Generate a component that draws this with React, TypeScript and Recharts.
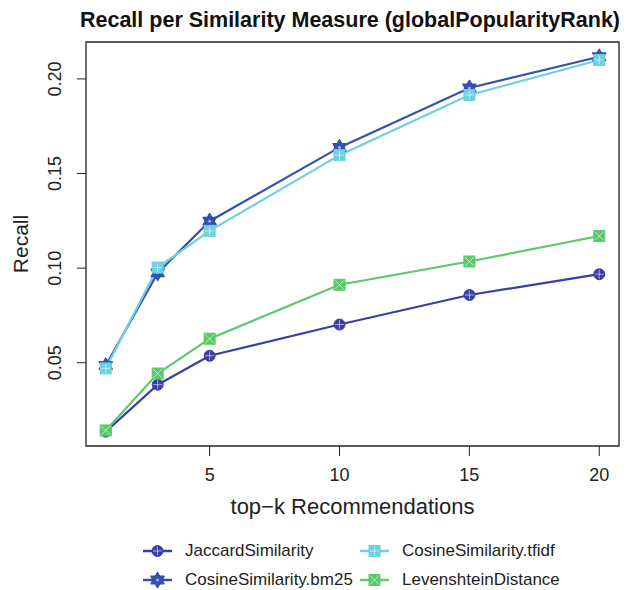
import React from 'react';
import { LineChart, Line, XAxis, YAxis, ReferenceArea } from 'recharts';

// top-k values on the x axis
const kValues = [1, 3, 5, 10, 15, 20];

// recall
const jaccard = [0.0136, 0.0384, 0.0537, 0.0702, 0.0858, 0.0968];
const cosineBm25 = [0.0485, 0.0975, 0.1248, 0.1638, 0.1952, 0.2117];
const cosineTfidf = [0.0470, 0.1003, 0.1197, 0.1597, 0.1915, 0.2100];
const levenshtein = [0.0142, 0.0443, 0.0627, 0.0912, 0.1035, 0.1170];

const xTicks = [5, 10, 15, 20];
const yTicks = [0.05, 0.1, 0.15, 0.2];

const X_DOMAIN = [0.24, 20.76];
const Y_DOMAIN = [0.006, 0.2195];

const FONT = '"Liberation Sans", Arial, Helvetica, sans-serif';

const series = [
  { key: 'jaccard', name: 'JaccardSimilarity', color: '#3a3fa3', shape: 'circlePlus', values: jaccard },
  { key: 'bm25', name: 'CosineSimilarity.bm25', color: '#3550b0', shape: 'star', values: cosineBm25 },
  { key: 'tfidf', name: 'CosineSimilarity.tfidf', color: '#6fd0df', shape: 'squarePlus', values: cosineTfidf },
  { key: 'lev', name: 'LevenshteinDistance', color: '#5cc96b', shape: 'squareX', values: levenshtein },
];

const data = kValues.map((k, i) => {
  const row: any = { k };
  series.forEach(s => { row[s.key] = s.values[i]; });
  return row;
});

function Marker({ cx, cy, shape, color }: any) {
  const w = 'rgba(255,255,255,0.55)';
  if (shape === 'circlePlus') {
    const r = 5.5;
    return (
      <g>
        <circle cx={cx} cy={cy} r={r} fill={color} stroke={color} strokeWidth={1} />
        <line x1={cx - r + 1} y1={cy} x2={cx + r - 1} y2={cy} stroke={w} strokeWidth={1} />
        <line x1={cx} y1={cy - r + 1} x2={cx} y2={cy + r - 1} stroke={w} strokeWidth={1} />
      </g>
    );
  }
  if (shape === 'star') {
    const r = 7.5;
    const tri = (start: number) => [0, 1, 2].map(i => {
      const a = start + (i * 2 * Math.PI) / 3;
      return `${cx + r * Math.cos(a)},${cy + r * Math.sin(a)}`;
    }).join(' ');
    return (
      <g>
        <polygon points={tri(-Math.PI / 2)} fill={color} stroke={color} strokeWidth={1.5} strokeLinejoin="round" />
        <polygon points={tri(Math.PI / 2)} fill={color} stroke={color} strokeWidth={1.5} strokeLinejoin="round" />
        <circle cx={cx} cy={cy} r={1.5} fill={w} />
      </g>
    );
  }
  const h = 5.5;
  return (
    <g>
      <rect x={cx - h} y={cy - h} width={h * 2} height={h * 2} fill={color} stroke={color} strokeWidth={1} />
      {shape === 'squarePlus' ? (
        <>
          <line x1={cx - h + 1} y1={cy} x2={cx + h - 1} y2={cy} stroke={w} strokeWidth={1} />
          <line x1={cx} y1={cy - h + 1} x2={cx} y2={cy + h - 1} stroke={w} strokeWidth={1} />
        </>
      ) : (
        <>
          <line x1={cx - h + 1} y1={cy - h + 1} x2={cx + h - 1} y2={cy + h - 1} stroke={w} strokeWidth={1} />
          <line x1={cx - h + 1} y1={cy + h - 1} x2={cx + h - 1} y2={cy - h + 1} stroke={w} strokeWidth={1} />
        </>
      )}
    </g>
  );
}

const XTick = ({ x, y, payload }: any) => (
  <text x={x} y={y + 19} textAnchor="middle" dominantBaseline="central" fontSize={18} fill="#222" fontFamily={FONT}>
    {payload.value}
  </text>
);

const YTick = ({ x, y, payload }: any) => {
  const tx = x - 22;
  return (
    <text x={tx} y={y} textAnchor="middle" dominantBaseline="central" fontSize={18} fill="#222"
      fontFamily={FONT} transform={`rotate(-90, ${tx}, ${y})`}>
      {Number(payload.value).toFixed(2)}
    </text>
  );
};

function LegendItem({ s, left, top }: any) {
  return (
    <div style={{ position: 'absolute', left, top, height: 20, display: 'flex', alignItems: 'center' }}>
      <svg width={32} height={20}>
        <line x1={1} y1={10} x2={30} y2={10} stroke={s.color} strokeWidth={2.5} />
        <Marker cx={15.5} cy={10} shape={s.shape} color={s.color} />
      </svg>
      <span style={{ marginLeft: 11, fontSize: 17, color: '#222', fontFamily: FONT, whiteSpace: 'nowrap' }}>{s.name}</span>
    </div>
  );
}

export default function App() {
  return (
    <div style={{ position: 'absolute', left: 0, top: 0, width: 629, height: 590, background: '#fff', fontFamily: FONT }}>
      <LineChart width={629} height={590} data={data} margin={{ top: 42, right: 10, left: 0, bottom: 0 }}>
        <XAxis dataKey="k" type="number" domain={X_DOMAIN} ticks={xTicks} allowDataOverflow
          height={144} tickSize={10} tickMargin={0} stroke="#222" axisLine={false} tick={<XTick />} />
        <YAxis type="number" domain={Y_DOMAIN} ticks={yTicks} allowDataOverflow
          width={86} tickSize={9} tickMargin={0} stroke="#222" axisLine={false} tick={<YTick />} />
        <ReferenceArea x1={X_DOMAIN[0]} x2={X_DOMAIN[1]} y1={Y_DOMAIN[0]} y2={Y_DOMAIN[1]}
          fill="none" fillOpacity={0} stroke="#222" strokeWidth={1.3} ifOverflow="visible" />
        {series.map(s => (
          <Line key={s.key} dataKey={s.key} stroke={s.color} strokeWidth={2.2} isAnimationActive={false}
            dot={(p: any) => <Marker key={`${s.key}-${p.index}`} cx={p.cx} cy={p.cy} shape={s.shape} color={s.color} />}
            activeDot={false} />
        ))}
      </LineChart>
      <div style={{ position: 'absolute', left: 0, width: 700, top: 8, textAlign: 'center', fontWeight: 'bold', fontSize: 21.5, color: '#111', whiteSpace: 'nowrap' }}>
        Recall per Similarity Measure (globalPopularityRank)
      </div>
      <div style={{ position: 'absolute', left: 86, width: 533, top: 494, textAlign: 'center', fontSize: 22, color: '#222' }}>
        top−k Recommendations
      </div>
      <div style={{ position: 'absolute', left: 21, top: 244, transform: 'translate(-50%, -50%) rotate(-90deg)', fontSize: 21, color: '#222' }}>
        Recall
      </div>
      <LegendItem s={series[0]} left={142} top={541} />
      <LegendItem s={series[2]} left={359} top={541} />
      <LegendItem s={series[1]} left={142} top={570} />
      <LegendItem s={series[3]} left={359} top={570} />
    </div>
  );
}
